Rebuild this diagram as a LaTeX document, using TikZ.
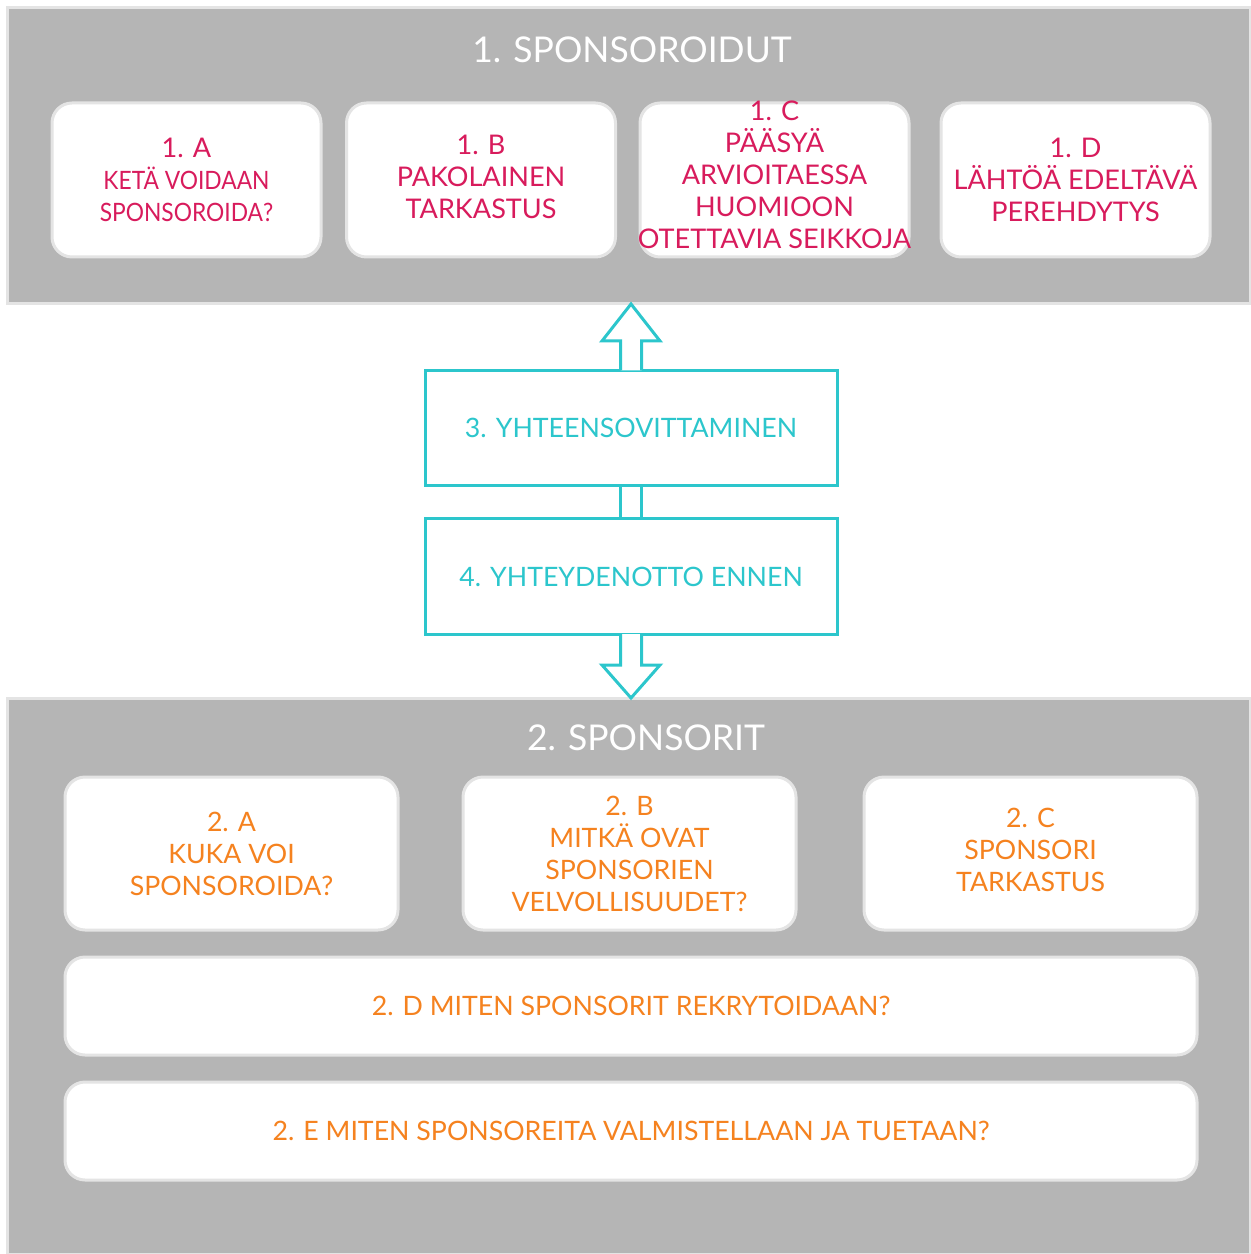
\documentclass[tikz,border=0pt]{standalone}
\usepackage{fontspec}
\setmainfont{Lato}
\newfontfamily\kapea[FakeStretch=0.9]{Lato}
\usetikzlibrary{calc}
\definecolor{paneelgray}{HTML}{B5B5B5}
\definecolor{reunagray}{HTML}{E4E4E4}
\definecolor{pinkki}{HTML}{D81B5C}
\definecolor{oranssi}{HTML}{F5821F}
\definecolor{syaani}{HTML}{2CC6CC}
\tikzset{
  panel/.style={fill=paneelgray, draw=reunagray, line width=0.03cm, inner sep=0pt, outer sep=0pt},
  paneltitle/.style={text=white, font=\fontsize{10.1}{12}\selectfont},
  card/.style={fill=white, draw=reunagray, line width=0.03cm, rounded corners=0.2cm, inner sep=0pt, outer sep=0pt, align=center},
  pinkcard/.style={card, text=pinkki, minimum width=2.69cm, minimum height=1.54cm, font=\fontsize{7.7}{9.1}\selectfont},
  orangecard/.style={card, text=oranssi, minimum width=3.33cm, minimum height=1.53cm, font=\fontsize{7.6}{9.1}\selectfont},
  widecard/.style={card, text=oranssi, minimum width=11.32cm, minimum height=0.98cm, font=\fontsize{7.6}{9}\selectfont},
  flowbox/.style={draw=syaani, fill=white, line width=0.03cm, text=syaani, minimum width=4.12cm, minimum height=1.15cm, inner sep=0pt, outer sep=0pt, font=\fontsize{7.6}{9}\selectfont},
  hollow/.style={draw=syaani, fill=white, line width=0.03cm, line join=miter}
}
\begin{document}
\begin{tikzpicture}
\useasboundingbox (0,0) rectangle (12.5,-12.54);
% ryhmat
\node[panel, minimum width=12.42cm, minimum height=2.96cm] (sponsoroidut) at (6.29,-1.56) {};
\node[panel, minimum width=12.42cm, minimum height=5.56cm] (sponsorit) at (6.29,-9.76) {};
\node[paneltitle] (otsikko1) at (6.32,-0.50) {1. SPONSOROIDUT};
\node[paneltitle] (otsikko2) at (6.46,-7.38) {2. SPONSORIT};
% sponsoroidut
\node[pinkcard] (yksiA) at (1.865,-1.80) {1. A\\{\kapea\fontsize{7.2}{9.1}\selectfont KETÄ VOIDAAN}\\{\kapea\fontsize{7.2}{9.1}\selectfont SPONSOROIDA?}};
\node[pinkcard] (yksiB) at (4.81,-1.80) {\raisebox{0.05cm}{\begin{tabular}{@{}c@{}}1. B\\PAKOLAINEN\\TARKASTUS\end{tabular}}};
\node[pinkcard] (yksiC) at (7.745,-1.80) {};
\node[text=pinkki, align=center, font=\fontsize{7.7}{9.1}\selectfont] (yksiCteksti) at (7.745,-1.75) {1. C\\PÄÄSYÄ\\ARVIOITAESSA\\HUOMIOON\\OTETTAVIA SEIKKOJA};
\node[pinkcard] (yksiD) at (10.755,-1.80) {1. D\\LÄHTÖÄ EDELTÄVÄ\\PEREHDYTYS};
% keskella
\node[flowbox] (yht) at (6.31,-4.28) {3. YHTEENSOVITTAMINEN};
\node[flowbox] (ennen) at (6.31,-5.765) {4. YHTEYDENOTTO ENNEN};
% sponsorit
\node[orangecard] (kaksiA) at (2.315,-8.535) {2. A\\KUKA VOI\\SPONSOROIDA?};
\node[orangecard] (kaksiB) at (6.295,-8.535) {2. B\\MITKÄ OVAT\\SPONSORIEN\\VELVOLLISUUDET?};
\node[orangecard] (kaksiC) at (10.305,-8.535) {\raisebox{0.08cm}{\begin{tabular}{@{}c@{}}2. C\\SPONSORI\\TARKASTUS\end{tabular}}};
\node[widecard] (kaksiD) at (6.31,-10.06) {2. D MITEN SPONSORIT REKRYTOIDAAN?};
\node[widecard] (kaksiE) at (6.31,-11.31) {2. E MITEN SPONSOREITA VALMISTELLAAN JA TUETAAN?};
% nuolet
\coordinate (tipylos) at (yht.north |- sponsoroidut.south);
\coordinate (tipalas) at (ennen.south |- sponsorit.north);
\draw[hollow] ($(yht.north)+(-0.105,0)$) -- ($(tipylos)+(-0.105,-0.37)$) -- ($(tipylos)+(-0.29,-0.37)$)
    -- (tipylos) -- ($(tipylos)+(0.29,-0.37)$) -- ($(tipylos)+(0.105,-0.37)$) -- ($(yht.north)+(0.105,0)$);
\draw[hollow] ($(ennen.south)+(-0.105,0)$) -- ($(tipalas)+(-0.105,0.33)$) -- ($(tipalas)+(-0.29,0.33)$)
    -- (tipalas) -- ($(tipalas)+(0.29,0.33)$) -- ($(tipalas)+(0.105,0.33)$) -- ($(ennen.south)+(0.105,0)$);
\draw[hollow] ($(yht.south)+(-0.105,0)$) -- ($(ennen.north)+(-0.105,0)$);
\draw[hollow] ($(yht.south)+(0.105,0)$) -- ($(ennen.north)+(0.105,0)$);
\end{tikzpicture}
\end{document}
